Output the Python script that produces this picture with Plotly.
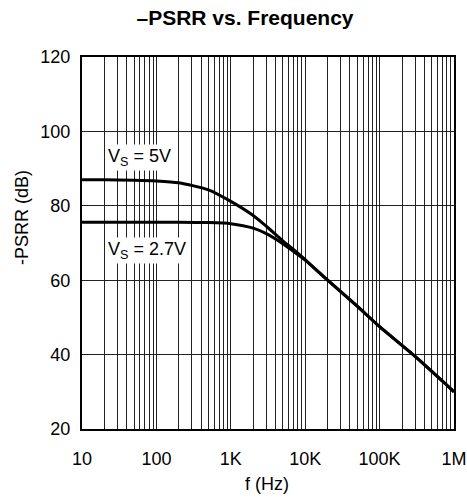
import plotly.graph_objects as go

# Data
freq_5v = [10, 20, 50, 100, 200, 500, 1000, 2000, 3000, 5000, 7000, 10000, 20000, 50000, 100000, 300000, 1000000]
psrr_5v = [87, 87, 86.9, 86.7, 86.2, 84.3, 81.2, 77.4, 74.5, 70.6, 68.2, 65.5, 60, 53, 47.5, 39.5, 30]

freq_27v = [10, 20, 50, 100, 200, 500, 1000, 2000, 3000, 5000, 7000, 10000, 20000, 50000, 100000, 300000, 1000000]
psrr_27v = [75.6, 75.6, 75.6, 75.6, 75.6, 75.5, 75.2, 74.0, 72.5, 69.8, 67.7, 65.4, 60, 53, 47.5, 39.5, 30]

x_tick_vals = [10, 100, 1000, 10000, 100000, 1000000]
x_tick_text = ["10", "100", "1K", "10K", "100K", "1M"]
x_minor_vals = [m * 10 ** e for e in range(1, 6) for m in range(2, 10)]

y_tick_vals = [20, 40, 60, 80, 100, 120]

FONT = "Liberation Sans, Arial, sans-serif"

fig = go.Figure()
fig.add_trace(go.Scatter(x=freq_5v, y=psrr_5v, mode="lines", line=dict(color="black", width=3, shape="spline", smoothing=0.6),
                         showlegend=False, hoverinfo="skip"))
fig.add_trace(go.Scatter(x=freq_27v, y=psrr_27v, mode="lines", line=dict(color="black", width=3, shape="spline", smoothing=0.6),
                         showlegend=False, hoverinfo="skip"))

W, H = 467, 501
fig.update_layout(
    width=W, height=H,
    margin=dict(l=82, r=13, t=57, b=72),
    paper_bgcolor="white", plot_bgcolor="white",
    font=dict(family=FONT, color="black", size=18),
    title=dict(text="<b>–PSRR vs. Frequency</b>", x=245 / W, y=1 - 18 / H, xref="container", yref="container",
               xanchor="center", yanchor="middle", font=dict(size=21, family=FONT, color="black")),
    xaxis=dict(type="log", range=[1, 6], tickmode="array", tickvals=x_tick_vals, ticktext=x_tick_text,
               showgrid=True, gridcolor="#222", gridwidth=1, showline=True, mirror=True, linecolor="black",
               linewidth=2, ticks="", ticklabelstandoff=12, zeroline=False, tickfont=dict(size=18),
               automargin=False,
               minor=dict(tickmode="array", tickvals=x_minor_vals, showgrid=True, gridcolor="#222", gridwidth=1, ticks="")),
    yaxis=dict(range=[20, 120], tickmode="array", tickvals=y_tick_vals, showgrid=True, gridcolor="#222", gridwidth=1,
               showline=True, mirror=True, linecolor="black", linewidth=2, ticks="", ticklabelstandoff=6,
               zeroline=False, tickfont=dict(size=18), automargin=False),
    annotations=[
        dict(text="f (Hz)", xref="paper", yref="paper", x=(267 - 82) / 372, y=-(484 - 429) / 372,
             xanchor="center", yanchor="middle", showarrow=False, font=dict(size=18)),
        dict(text="-PSRR (dB)", xref="paper", yref="paper", x=(22 - 82) / 372, y=(429 - 218) / 372,
             xanchor="center", yanchor="middle", showarrow=False, textangle=-90, font=dict(size=18)),
        dict(text="V<sub>S</sub> = 5V", xref="paper", yref="paper", x=(106 - 82) / 372, y=(429 - 157) / 372,
             xanchor="left", yanchor="middle", showarrow=False, bgcolor="white", font=dict(size=18)),
        dict(text="V<sub>S</sub> = 2.7V", xref="paper", yref="paper", x=(106 - 82) / 372, y=(429 - 250) / 372,
             xanchor="left", yanchor="middle", showarrow=False, bgcolor="white", font=dict(size=18)),
    ],
)

fig.write_html("out.html", config={"displayModeBar": False, "staticPlot": True},
               post_script="document.body.style.margin='0';document.body.style.overflow='hidden';")
